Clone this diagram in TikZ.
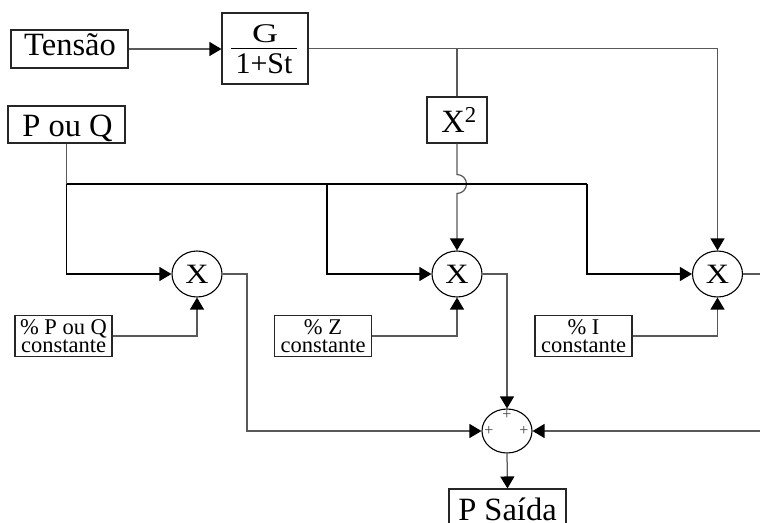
\documentclass[tikz,border=0pt]{standalone}
\usepackage{fontspec}
\usepackage{graphicx}
\setmainfont{Liberation Serif}
\usetikzlibrary{arrows.meta,shapes.geometric}
\definecolor{lg}{gray}{0.35}
\tikzset{
  box/.style={draw=black!85, line width=1.1pt, inner sep=0pt, align=center},
  bigtxt/.style={font=\fontsize{32.5}{34}\selectfont, inner sep=0pt},
  gtxt/.style={font=\fontsize{30}{32}\selectfont, inner sep=0pt},
  cbox/.style={box, minimum width=97pt, minimum height=41pt, font=\fontsize{22.5}{18.5}\selectfont},
  mult/.style={draw=black, line width=1.1pt, ellipse, minimum width=50pt, minimum height=46pt, inner sep=0pt, font=\fontsize{28}{28}\selectfont},
  sumnode/.style={draw=black, line width=1.1pt, ellipse, minimum width=50pt, minimum height=44pt, inner sep=0pt},
  plus/.style={inner sep=0pt, font=\fontsize{16}{16}\selectfont, text=black!75},
  ln/.style={draw=lg, line width=1.25pt},
  bk/.style={draw=black, line width=1.1pt},
  arr/.style={-{Triangle[length=12pt,width=14pt,color=black]}}
}
\begin{document}
\begin{tikzpicture}[x=1pt,y=-1pt]
\path[use as bounding box, clip] (0,0) rectangle (760,522);

% input boxes
\node[box, minimum width=117pt, minimum height=38pt] (tensao) at (69.5,49) {};
\node[bigtxt, anchor=base] (tensaoT) at (70,55) {Tensão};

\node[box, minimum width=86pt, minimum height=71pt] (gbox) at (265,48.5) {};
\node[gtxt, anchor=base] (gnum) at (265,42) {\scalebox{1.2}[0.9]{G}};
\node[gtxt, anchor=base] (gden) at (264,73) {1+St};
\draw[black, line width=1pt] (231,48) -- (297,48);

\node[box, minimum width=60pt, minimum height=46pt] (x2) at (457,120) {};
\node[bigtxt, anchor=base] (x2T) at (459,132) {X\textsuperscript{2}};

\node[box, minimum width=117pt, minimum height=37pt] (pq) at (66.5,124.5) {};
\node[bigtxt, anchor=base] (pqT) at (67.5,136) {P ou Q};

% constant boxes
\node[cbox] (cP) at (63.5,336) {\% P ou Q\\constante};
\node[cbox] (cZ) at (323,336) {\% Z\\constante};
\node[cbox] (cI) at (583.5,336) {\% I\\constante};

% multipliers
\node[mult] (m1) at (197,274) {\scalebox{1.15}[1]{X}};
\node[mult] (m2) at (457,274) {\scalebox{1.15}[1]{X}};
\node[mult] (m3) at (717.5,274) {\scalebox{1.15}[1]{X}};

% summer
\node[sumnode] (sum) at (507,431) {};
\node[plus] (pT) at (507,415) {+};
\node[plus] (pL) at (489,431) {+};
\node[plus] (pR) at (524,431) {+};

% output box
\node[box, minimum width=117pt, minimum height=40pt] (ps) at (507.5,509) {};
\node[bigtxt, anchor=base] (psT) at (507.5,520) {P Saída};

% coordinates
\coordinate (b1) at (66.5,184);
\coordinate (b2) at (327,184);
\coordinate (b3) at (587,184);
\coordinate (gx) at (457,48.5);
\coordinate (h1) at (457,174.5);
\coordinate (o1) at (247,274);
\coordinate (o3) at (775,274);
\coordinate (o3b) at (775,431);

% connectors
\draw[ln, arr] (tensao.east) -- (tensao.east -| gbox.west);
\draw[ln, arr] (gbox.east) -| (m3.north);
\draw[ln] (gx) -- (x2.north);
\draw[ln, arr] (x2.south) -- (h1) arc[start angle=-90, end angle=90, radius=9.5] -- (m2.north);

\draw[ln] (pq.south) -- (b1);
\draw[bk, arr] (b1) |- (m1.west);
\draw[bk] (b1) -- (b3);
\draw[bk, arr] (b2) |- (m2.west);
\draw[bk, arr] (b3) |- (m3.west);

\draw[ln, arr] (cP.east) -| (m1.south);
\draw[ln, arr] (cZ.east) -| (m2.south);
\draw[ln, arr] (cI.east) -| (m3.south);

\draw[ln, arr] (m1.east) -- (o1) |- (sum.west);
\draw[ln, arr] (m2.east) -| (sum.north);
\draw[ln] (m3.east) -- (o3);
\draw[ln, arr] (o3) -- (o3b) -- (sum.east);
\draw[ln, arr] (sum.south) -- (ps.north);
\end{tikzpicture}
\end{document}
